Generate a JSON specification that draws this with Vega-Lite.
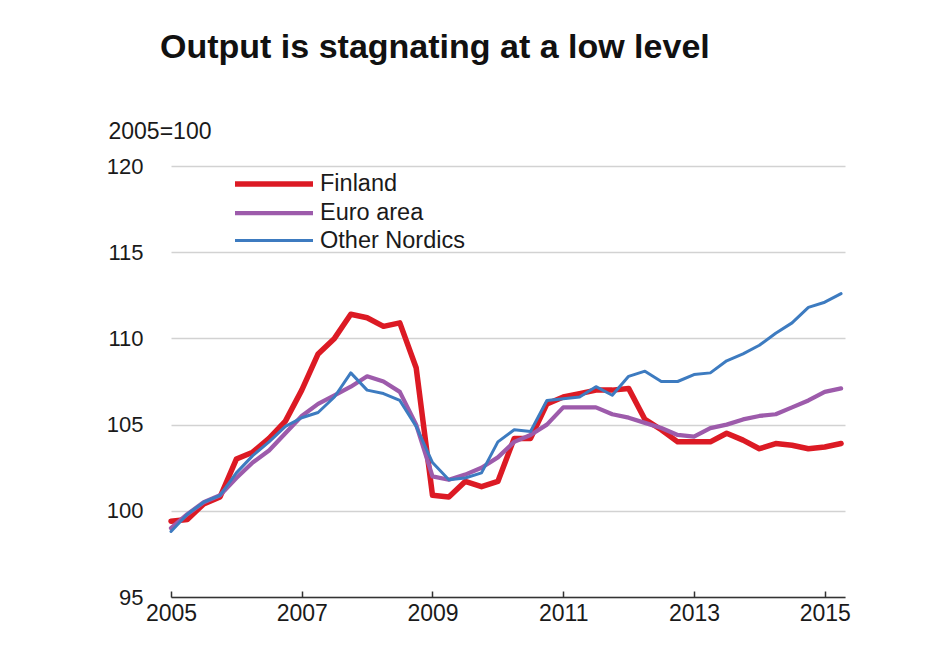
{
  "$schema": "https://vega.github.io/schema/vega-lite/v6.json",
  "autosize": {"type": "none"},
  "width": 674,
  "height": 431,
  "padding": {"left": 171, "top": 166, "right": 85, "bottom": 54},
  "background": "white",
  "config": {
    "font": "Liberation Sans",
    "view": {"stroke": null}
  },
  "title": {
    "text": "Output is stagnating at a low level",
    "anchor": "start",
    "frame": "group",
    "dx": -11,
    "fontSize": 34,
    "fontWeight": "bold",
    "color": "#111111",
    "baseline": "alphabetic",
    "offset": 28
  },
  "data": {
    "values": [
      {"t": 2005.00, "Finland": 99.4, "Euro area": 99.0, "Other Nordics": 98.8},
      {"t": 2005.25, "Finland": 99.5, "Euro area": 99.8, "Other Nordics": 99.8},
      {"t": 2005.50, "Finland": 100.4, "Euro area": 100.5, "Other Nordics": 100.5},
      {"t": 2005.75, "Finland": 100.8, "Euro area": 100.9, "Other Nordics": 100.9},
      {"t": 2006.00, "Finland": 103.0, "Euro area": 101.9, "Other Nordics": 102.2},
      {"t": 2006.25, "Finland": 103.4, "Euro area": 102.8, "Other Nordics": 103.2},
      {"t": 2006.50, "Finland": 104.2, "Euro area": 103.5, "Other Nordics": 104.0},
      {"t": 2006.75, "Finland": 105.2, "Euro area": 104.5, "Other Nordics": 104.9},
      {"t": 2007.00, "Finland": 107.0, "Euro area": 105.5, "Other Nordics": 105.4},
      {"t": 2007.25, "Finland": 109.1, "Euro area": 106.2, "Other Nordics": 105.7},
      {"t": 2007.50, "Finland": 110.0, "Euro area": 106.7, "Other Nordics": 106.6},
      {"t": 2007.75, "Finland": 111.4, "Euro area": 107.2, "Other Nordics": 108.0},
      {"t": 2008.00, "Finland": 111.2, "Euro area": 107.8, "Other Nordics": 107.0},
      {"t": 2008.25, "Finland": 110.7, "Euro area": 107.5, "Other Nordics": 106.8},
      {"t": 2008.50, "Finland": 110.9, "Euro area": 106.9, "Other Nordics": 106.4},
      {"t": 2008.75, "Finland": 108.3, "Euro area": 105.0, "Other Nordics": 104.9},
      {"t": 2009.00, "Finland": 100.9, "Euro area": 102.0, "Other Nordics": 102.8},
      {"t": 2009.25, "Finland": 100.8, "Euro area": 101.8, "Other Nordics": 101.8},
      {"t": 2009.50, "Finland": 101.7, "Euro area": 102.1, "Other Nordics": 101.9},
      {"t": 2009.75, "Finland": 101.4, "Euro area": 102.5, "Other Nordics": 102.2},
      {"t": 2010.00, "Finland": 101.7, "Euro area": 103.1, "Other Nordics": 104.0},
      {"t": 2010.25, "Finland": 104.2, "Euro area": 104.0, "Other Nordics": 104.7},
      {"t": 2010.50, "Finland": 104.2, "Euro area": 104.4, "Other Nordics": 104.6},
      {"t": 2010.75, "Finland": 106.2, "Euro area": 105.0, "Other Nordics": 106.4},
      {"t": 2011.00, "Finland": 106.6, "Euro area": 106.0, "Other Nordics": 106.5},
      {"t": 2011.25, "Finland": 106.8, "Euro area": 106.0, "Other Nordics": 106.6},
      {"t": 2011.50, "Finland": 107.0, "Euro area": 106.0, "Other Nordics": 107.2},
      {"t": 2011.75, "Finland": 107.0, "Euro area": 105.6, "Other Nordics": 106.7},
      {"t": 2012.00, "Finland": 107.1, "Euro area": 105.4, "Other Nordics": 107.8},
      {"t": 2012.25, "Finland": 105.3, "Euro area": 105.1, "Other Nordics": 108.1},
      {"t": 2012.50, "Finland": 104.7, "Euro area": 104.8, "Other Nordics": 107.5},
      {"t": 2012.75, "Finland": 104.0, "Euro area": 104.4, "Other Nordics": 107.5},
      {"t": 2013.00, "Finland": 104.0, "Euro area": 104.3, "Other Nordics": 107.9},
      {"t": 2013.25, "Finland": 104.0, "Euro area": 104.8, "Other Nordics": 108.0},
      {"t": 2013.50, "Finland": 104.5, "Euro area": 105.0, "Other Nordics": 108.7},
      {"t": 2013.75, "Finland": 104.1, "Euro area": 105.3, "Other Nordics": 109.1},
      {"t": 2014.00, "Finland": 103.6, "Euro area": 105.5, "Other Nordics": 109.6},
      {"t": 2014.25, "Finland": 103.9, "Euro area": 105.6, "Other Nordics": 110.3},
      {"t": 2014.50, "Finland": 103.8, "Euro area": 106.0, "Other Nordics": 110.9},
      {"t": 2014.75, "Finland": 103.6, "Euro area": 106.4, "Other Nordics": 111.8},
      {"t": 2015.00, "Finland": 103.7, "Euro area": 106.9, "Other Nordics": 112.1},
      {"t": 2015.25, "Finland": 103.9, "Euro area": 107.1, "Other Nordics": 112.6}
    ]
  },
  "transform": [
    {"fold": ["Finland", "Euro area", "Other Nordics"], "as": ["series", "value"]}
  ],
  "encoding": {
    "x": {
      "field": "t",
      "type": "quantitative",
      "scale": {"domain": [2005, 2015.31], "nice": false, "zero": false},
      "axis": {
        "title": null,
        "values": [2005, 2007, 2009, 2011, 2013, 2015],
        "format": "d",
        "grid": false,
        "domainColor": "#333333",
        "domainWidth": 1.5,
        "tickColor": "#333333",
        "tickWidth": 1.5,
        "tickSize": -6,
        "labelFontSize": 23,
        "labelColor": "#1a1a1a",
        "labelPadding": 11,
        "labelFlush": false
      }
    },
    "y": {
      "field": "value",
      "type": "quantitative",
      "scale": {"domain": [95, 120], "nice": false, "zero": false},
      "axis": {
        "values": [95, 100, 105, 110, 115, 120],
        "domain": false,
        "ticks": false,
        "grid": true,
        "gridColor": "#d2d2d2",
        "gridWidth": 1.6,
        "labelFontSize": 22,
        "labelColor": "#1a1a1a",
        "labelPadding": 28,
        "title": "2005=100",
        "titleAngle": 0,
        "titleAlign": "left",
        "titleBaseline": "middle",
        "titleX": -63,
        "titleY": -35,
        "titleFontSize": 23,
        "titleFontWeight": "normal",
        "titleColor": "#1a1a1a"
      }
    },
    "color": {
      "field": "series",
      "type": "nominal",
      "scale": {
        "domain": ["Finland", "Euro area", "Other Nordics"],
        "range": ["#dc1a24", "#9d5bab", "#3d7bc0"]
      },
      "legend": {
        "title": null,
        "orient": "none",
        "legendX": 61,
        "legendY": 2,
        "padding": 0,
        "symbolType": "M-1,0H5",
        "symbolSize": 676,
        "labelFontSize": 23.5,
        "labelColor": "#1a1a1a",
        "labelOffset": 56,
        "rowPadding": 1.5
      }
    },
    "strokeWidth": {
      "field": "series",
      "type": "ordinal",
      "scale": {
        "domain": ["Finland", "Euro area", "Other Nordics"],
        "range": [5.5, 3, 3]
      },
      "legend": {
        "title": null,
        "orient": "none",
        "legendX": 61,
        "legendY": 2,
        "padding": 0,
        "symbolType": "M-1,0H5",
        "symbolSize": 676,
        "labelFontSize": 23.5,
        "labelColor": "#1a1a1a",
        "labelOffset": 56,
        "rowPadding": 1.5
      }
    }
  },
  "layer": [
    {
      "transform": [{"filter": "datum.series === 'Finland'"}],
      "mark": {"type": "line", "strokeJoin": "round", "strokeCap": "round"}
    },
    {
      "transform": [{"filter": "datum.series === 'Euro area'"}],
      "mark": {"type": "line", "strokeJoin": "round", "strokeCap": "round"}
    },
    {
      "transform": [{"filter": "datum.series === 'Other Nordics'"}],
      "mark": {"type": "line", "strokeJoin": "round", "strokeCap": "round"}
    }
  ]
}
